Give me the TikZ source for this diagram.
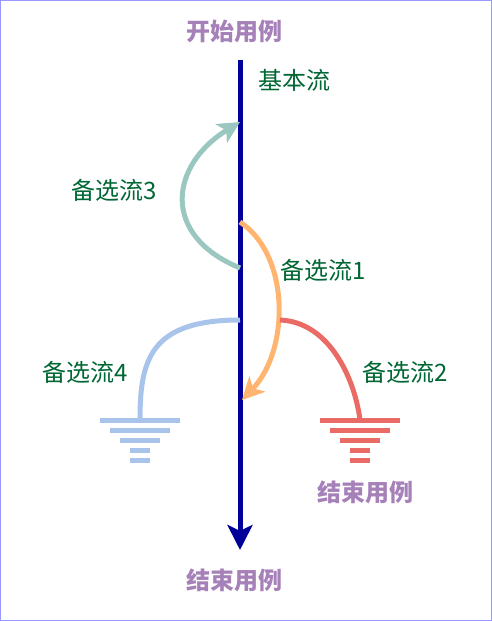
\documentclass[tikz,border=0pt]{standalone}
\usepackage{fontspec}
\newfontfamily\cjk{Noto Sans CJK SC}
\usetikzlibrary{arrows.meta}
\definecolor{mainblue}{HTML}{000099}
\definecolor{ttlpurple}{HTML}{A680B8}
\definecolor{lblgreen}{HTML}{006633}
\definecolor{fteal}{HTML}{9AC7BF}
\definecolor{forange}{HTML}{FFB570}
\definecolor{fblue}{HTML}{A9C4EB}
\definecolor{fred}{HTML}{EA6B66}
\definecolor{frame}{HTML}{9999FF}
\begin{document}
\begin{tikzpicture}[x=1pt,y=-1pt,
  ttl/.style={font=\cjk\fontsize{24}{28}\selectfont\bfseries, text=ttlpurple, inner sep=0pt},
  lbl/.style={font=\cjk\fontsize{24}{28}\selectfont, text=lblgreen, inner sep=0pt},
  flow/.style={line width=5pt},
  gbar/.style={line width=5pt}]
\useasboundingbox (0,0) rectangle (492,621);
\draw[frame, line width=1pt] (0.5,0.5) rectangle (491.5,620.5);

% texts
\node[ttl] (start) at (234.5,31) {开始用例};
\node[ttl] (end) at (234.5,580) {结束用例};
\node[ttl] (end2) at (365,492) {结束用例};
\node[lbl] (basic) at (294,80) {基本流};
\node[lbl] (alt3) at (114,190) {备选流3};
\node[lbl] (alt1) at (323,270) {备选流1};
\node[lbl] (alt4) at (85,372) {备选流4};
\node[lbl] (alt2) at (405,372) {备选流2};

% coordinates
\coordinate (mtop) at (240,60);
\coordinate (mbot) at (240,550);
\coordinate (t0) at (240,268);
\coordinate (t1) at (240,122);
\coordinate (o0) at (240,222);
\coordinate (o1) at (242,400);
\coordinate (b0) at (240,320);
\coordinate (g1) at (140,420);
\coordinate (r0) at (280,320);
\coordinate (g2) at (360,420);

% main flow
\draw[mainblue, line width=5pt, -{Stealth[length=25pt,width=25pt,inset=6pt]}] (mtop) -- (mbot);

% alternative flows
\draw[fteal, flow, -{Stealth[length=22pt,width=22pt,inset=6pt]}] (t0) .. controls (160,235) and (170,165) .. (t1);
\draw[forange, flow, -{Stealth[length=22pt,width=22pt,inset=6pt]}] (o0) .. controls (290,255) and (290,350) .. (o1);
\draw[fblue, flow] (b0) .. controls (150,320) and (140,360) .. (g1);
\draw[fred, flow] (r0) .. controls (330,322) and (355,380) .. (g2);

% grounds
\foreach \c/\col in {140/fblue, 360/fred}{
  \draw[\col, gbar] (\c-40,420) -- (\c+40,420);
  \draw[\col, gbar] (\c-30,430) -- (\c+30,430);
  \draw[\col, gbar] (\c-20,440) -- (\c+20,440);
  \draw[\col, gbar] (\c-10,450) -- (\c+10,450);
  \draw[\col, gbar] (\c-10,460) -- (\c+10,460);
}
\end{tikzpicture}
\end{document}
